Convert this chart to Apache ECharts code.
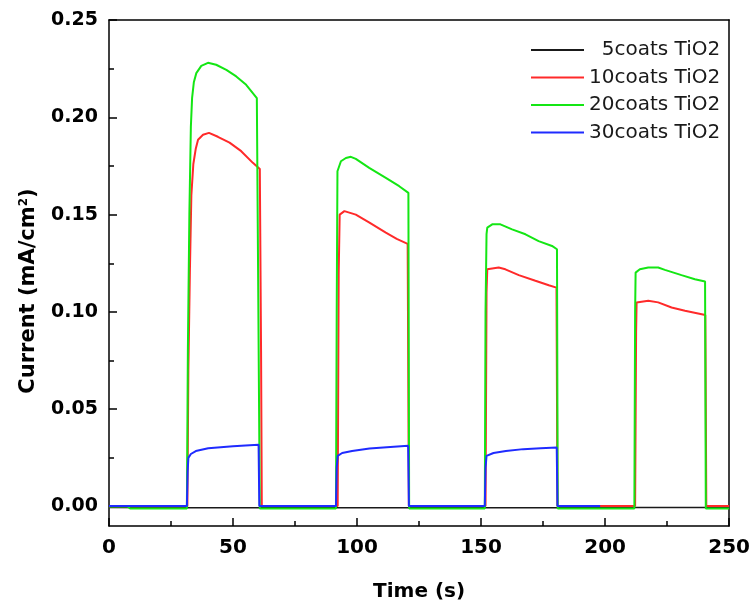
<!DOCTYPE html>
<html>
<head>
<meta charset="utf-8">
<script src="https://cdn.jsdelivr.net/npm/echarts@6/dist/echarts.min.js"></script>
<style>
  html, body { margin: 0; padding: 0; background: #fff; }
  #chart { width: 753px; height: 608px; }
</style>
</head>
<body>
<div id="chart"></div>
<script>
// ---- data (time in s, current in mA/cm2) ----
const seriesNames = ['  5coats TiO2', '10coats TiO2', '20coats TiO2', '30coats TiO2'];
const seriesColors = ['#1a1a1a', '#ff2a2a', '#14e614', '#1f2bff'];

const t5 = [0, 31, 61, 91, 121, 151, 181, 211, 241, 250];
const v5 = [-0.0005, -0.0006, -0.0006, -0.0006, -0.0006, -0.0006, -0.0006, -0.0005, -0.0005, -0.0005];

const t10 = [0, 31.6, 32.0, 32.6, 33.2, 34.0, 35.0, 35.9, 37.9, 40.3, 43.9, 48.6, 53.3, 58.0, 60.8, 61.3, 61.6,
  92.2, 92.6, 93.0, 94.9, 99.5, 105.0, 111.6, 116.0, 120.4, 120.9,
  151.8, 152.2, 152.5, 157.1, 159.8, 165.2, 171.9, 177.3, 180.4, 180.8,
  212.1, 212.5, 212.7, 217.4, 221.4, 226.8, 232.2, 237.5, 240.4, 240.8, 250];
const v10 = [0.0002, 0.0002, 0.07, 0.12, 0.160, 0.176, 0.184, 0.1885, 0.191, 0.192, 0.190, 0.187, 0.1826, 0.1766, 0.1735, 0.08, 0.0003,
  0.0003, 0.12, 0.150, 0.1518, 0.150, 0.1459, 0.1407, 0.1375, 0.135, 0.0003,
  0.0003, 0.11, 0.1219, 0.1228, 0.1219, 0.1189, 0.116, 0.1137, 0.1125, 0.0003,
  0.0003, 0.09, 0.1049, 0.1057, 0.1049, 0.1023, 0.1006, 0.0992, 0.0984, 0.0003, 0.0003];

const t20 = [0, 7.5, 8.5, 31.4, 31.8, 32.4, 33.0, 33.5, 34.2, 35.2, 37.2, 39.9, 43.2, 47.3, 51.3, 55.3, 59.6, 60.4, 60.8,
  91.5, 91.8, 92.1, 93.5, 95.5, 97.5, 99.5, 104.9, 111.6, 117.0, 120.7, 121.0,
  151.5, 151.8, 152.2, 152.5, 154.5, 157.8, 162.5, 167.9, 173.2, 178.6, 180.6, 180.9,
  211.8, 212.1, 212.3, 214.0, 217.4, 221.4, 224.1, 230.8, 236.2, 240.3, 240.6, 250];
const v20 = [0, 0, -0.001, -0.001, 0.08, 0.15, 0.195, 0.210, 0.218, 0.2227, 0.2264, 0.228, 0.227, 0.2244, 0.221, 0.2167, 0.2099, 0.209, -0.001,
  -0.001, 0.10, 0.1723, 0.1774, 0.1791, 0.1797, 0.1786, 0.174, 0.1689, 0.1646, 0.1612, -0.001,
  -0.001, 0.10, 0.140, 0.1433, 0.145, 0.145, 0.1424, 0.1399, 0.1364, 0.1339, 0.1322, -0.001,
  -0.001, 0.10, 0.1202, 0.1219, 0.1228, 0.1228, 0.1216, 0.1189, 0.1168, 0.1156, -0.001, -0.001];

const t30 = [0, 31.4, 31.7, 32.0, 33.0, 35.0, 40.0, 45.0, 50.0, 55.0, 60.3, 60.6,
  91.5, 91.8, 92.2, 94.0, 98.0, 105.0, 112.0, 120.6, 120.9,
  151.5, 151.8, 152.2, 155.0, 160.0, 167.0, 174.0, 180.5, 180.8, 198];
const v30 = [0.0003, 0.0003, 0.018, 0.025, 0.027, 0.0285, 0.030, 0.0305, 0.031, 0.0314, 0.0317, 0.0003,
  0.0003, 0.02, 0.026, 0.0275, 0.0285, 0.0298, 0.0305, 0.0312, 0.0003,
  0.0003, 0.02, 0.026, 0.0275, 0.0285, 0.0295, 0.0300, 0.0303, 0.0003, 0.0003];

const xTicks = [0, 50, 100, 150, 200, 250];
const yTicks = [0, 0.05, 0.10, 0.15, 0.20, 0.25];
const yMinorTicks = [0.025, 0.075, 0.125, 0.175, 0.225];

// ---- chart ----
const zip = (ts, vs) => ts.map((t, i) => [t, vs[i]]);
const allT = [t5, t10, t20, t30];
const allV = [v5, v10, v20, v30];

const chart = echarts.init(document.getElementById('chart'), null, { renderer: 'canvas' });
const axisFont = 'DejaVu Sans';

const option = {
  animation: false,
  backgroundColor: '#fff',
  grid: { left: 109, right: 22, top: 20, bottom: 82 },
  legend: {
    orient: 'vertical',
    left: 526,
    top: 35,
    itemWidth: 53,
    itemHeight: 14,
    itemGap: 7.5,
    icon: 'path://M0,6 L53,6 L53,8 L0,8 Z',
    textStyle: { fontFamily: axisFont, fontSize: 20, color: '#1a1a1a', lineHeight: 20 },
    data: seriesNames
  },
  xAxis: [{
    type: 'value', min: 0, max: 250, interval: 50,
    name: 'Time (s)', nameLocation: 'middle', nameGap: 56,
    nameTextStyle: { fontFamily: axisFont, fontWeight: 'bold', fontSize: 20, color: '#000' },
    axisLine: { show: true, onZero: false, lineStyle: { color: '#000', width: 1.5 } },
    axisTick: { show: true, inside: true, length: 8, lineStyle: { color: '#000', width: 1.5 } },
    minorTick: { show: true, splitNumber: 2, length: 5, lineStyle: { color: '#000', width: 1.5 } },
    axisLabel: { fontFamily: axisFont, fontWeight: 'bold', fontSize: 20, color: '#000', margin: 12,
      customValues: xTicks },
    splitLine: { show: false }
  }, {
    type: 'value', min: 0, max: 250, position: 'top',
    axisLine: { show: true, onZero: false, lineStyle: { color: '#000', width: 1.5 } },
    axisTick: { show: false }, axisLabel: { show: false }, splitLine: { show: false }
  }],
  yAxis: [{
    type: 'value', min: -0.01, max: 0.25,
    name: 'Current (mA/cm{sup|2})', nameLocation: 'middle', nameGap: 70, nameRotate: 90,
    nameTextStyle: { fontFamily: axisFont, fontWeight: 'bold', fontSize: 21, color: '#000',
      padding: [0, 36, 0, 0],
      rich: { sup: { fontFamily: axisFont, fontWeight: 'bold', fontSize: 12, color: '#000', verticalAlign: 'top', lineHeight: 14, padding: [0, 0, 10, 0] } } },
    axisLine: { show: true, onZero: false, lineStyle: { color: '#000', width: 1.5 } },
    axisTick: { show: true, inside: true, length: 8, customValues: yTicks, lineStyle: { color: '#000', width: 1.5 } },
    axisLabel: { fontFamily: axisFont, fontWeight: 'bold', fontSize: 19, color: '#000', margin: 11,
      customValues: yTicks, formatter: v => v.toFixed(2) },
    splitLine: { show: false }
  }, {
    type: 'value', min: -0.01, max: 0.25, position: 'left',
    axisLine: { show: false },
    axisTick: { show: true, inside: true, length: 5, customValues: yMinorTicks, lineStyle: { color: '#000', width: 1.5 } },
    axisLabel: { show: false }, splitLine: { show: false }
  }, {
    type: 'value', min: -0.01, max: 0.25, position: 'right',
    axisLine: { show: true, onZero: false, lineStyle: { color: '#000', width: 1.5 } },
    axisTick: { show: false }, axisLabel: { show: false }, splitLine: { show: false }
  }],
  series: seriesNames.map((name, i) => ({
    name: name,
    type: 'line',
    xAxisIndex: 0,
    yAxisIndex: 0,
    symbol: 'none',
    showSymbol: false,
    color: seriesColors[i],
    lineStyle: { color: seriesColors[i], width: i === 0 ? 1.6 : 2 },
    data: zip(allT[i], allV[i])
  }))
};
chart.setOption(option);
</script>
</body>
</html>
